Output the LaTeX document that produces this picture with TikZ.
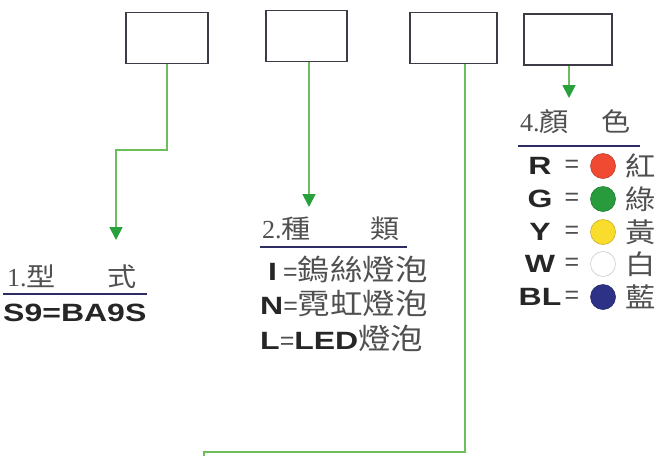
\documentclass[tikz,border=0pt]{standalone}
\usepackage{fontspec}
\usepackage{tikz}
\usetikzlibrary{arrows.meta, positioning, calc}
\newfontfamily\cjk[FakeStretch=1.12]{Noto Sans CJK TC}
\newfontfamily\latb[FakeStretch=1.28]{Liberation Sans}
\newfontfamily\latr{Liberation Sans}
\newfontfamily\numf{Liberation Serif}
\definecolor{linegreen}{RGB}{108, 190, 92}
\definecolor{tipgreen}{RGB}{40, 160, 60}
\definecolor{boxgray}{RGB}{60, 60, 70}
\definecolor{rulenavy}{RGB}{45, 45, 100}
\definecolor{textgray}{RGB}{80, 80, 80}
\definecolor{dotred}{RGB}{240, 75, 50}
\definecolor{dotgreen}{RGB}{40, 155, 60}
\definecolor{dotyellow}{RGB}{250, 220, 45}
\definecolor{dotblue}{RGB}{45, 50, 135}
\newcommand{\zh}[1]{{\cjk\mdseries\color{textgray}\fontsize{29}{29}\selectfont #1}}
\newcommand{\eqs}{{\latr\mdseries\color{textgray}=}}

\begin{document}
\begin{tikzpicture}[x=1pt, y=-1pt,
    codebox/.style={draw=boxgray, line width=1.8pt, inner sep=0pt, minimum height=51pt},
    conn/.style={draw=linegreen, line width=1.8pt, -{Triangle[width=13pt, length=13pt, color=tipgreen]}},
    wire/.style={draw=linegreen, line width=1.8pt},
    heading/.style={anchor=base west, inner sep=0pt, text=textgray, font={\cjk\fontsize{26}{26}\selectfont}},
    code/.style={inner sep=0pt, text=black!85, font={\latb\bfseries\fontsize{25}{25}\selectfont}},
    rule/.style={draw=rulenavy, line width=1.8pt}]
    \useasboundingbox (0,0) rectangle (661,456);

    % empty code boxes
    \node[codebox, minimum width=82pt] (b1) at (167,38) {};
    \node[codebox, minimum width=81pt] (b2) at (306.5,36) {};
    \node[codebox, minimum width=87pt] (b3) at (453.5,38) {};
    \node[codebox, minimum width=88pt] (b4) at (568,39.5) {};

    % connectors
    \coordinate (k1) at (116,150);
    \coordinate (t1) at (116,240);
    \draw[conn] (b1.south) |- (k1) -- (t1);
    \coordinate (t2) at (309,207);
    \draw[conn] (b2.south -| t2) -- (t2);
    \coordinate (k3) at (465,452);
    \coordinate (e3) at (204,456);
    \draw[wire] (b3.south -| k3) -- (k3) -| (e3);
    \coordinate (t4) at (569,98);
    \draw[conn] (b4.south -| t4) -- (t4);

    % 1. type
    \node[heading] (h1) at (7,286) {{\numf 1.}型\hspace{52pt}式};
    \draw[rule] (3,294) -- (147,294);
    \node[code, anchor=west] (s9) at (3,313) {S9=BA9S};

    % 2. kind
    \node[heading] (h2) at (262,238) {{\numf 2.}種\hspace{60pt}類};
    \draw[rule] (260,247) -- (407,247);
    \node[code, anchor=base west] (ki) at (268,280) {I\hspace{6pt}\eqs\zh{鎢絲燈泡}};
    \node[code, anchor=base west] (kn) at (260,314) {N\eqs\zh{霓虹燈泡}};
    \node[code, anchor=base west] (kl) at (260,349) {L\eqs LED\zh{燈泡}};

    % 4. colour
    \node[heading] (h4) at (520,131) {{\numf 4.}顏\hspace{33pt}色};
    \draw[rule] (518,146) -- (640,146);
    \foreach \lt/\fc/\zc/\yy in {R/dotred/紅/166, G/dotgreen/綠/199, Y/dotyellow/黃/232, W/white/白/264, BL/dotblue/藍/297} {
        \node[code] (l\lt) at (540,\yy) {\lt};
        \node[inner sep=0pt, font={\latr\fontsize{25}{25}\selectfont}, text=textgray] (q\lt) at (572,\yy) {=};
        \node[circle, inner sep=0pt, minimum size=25pt, fill=\fc, draw=\fc!80!black, line width=0.6pt] (d\lt) at (603,\yy) {};
        \node[inner sep=0pt, text=textgray, font={\cjk\fontsize{27}{27}\selectfont}] (c\lt) at (641,\yy) {\zc};
    }
\end{tikzpicture}
\end{document}
